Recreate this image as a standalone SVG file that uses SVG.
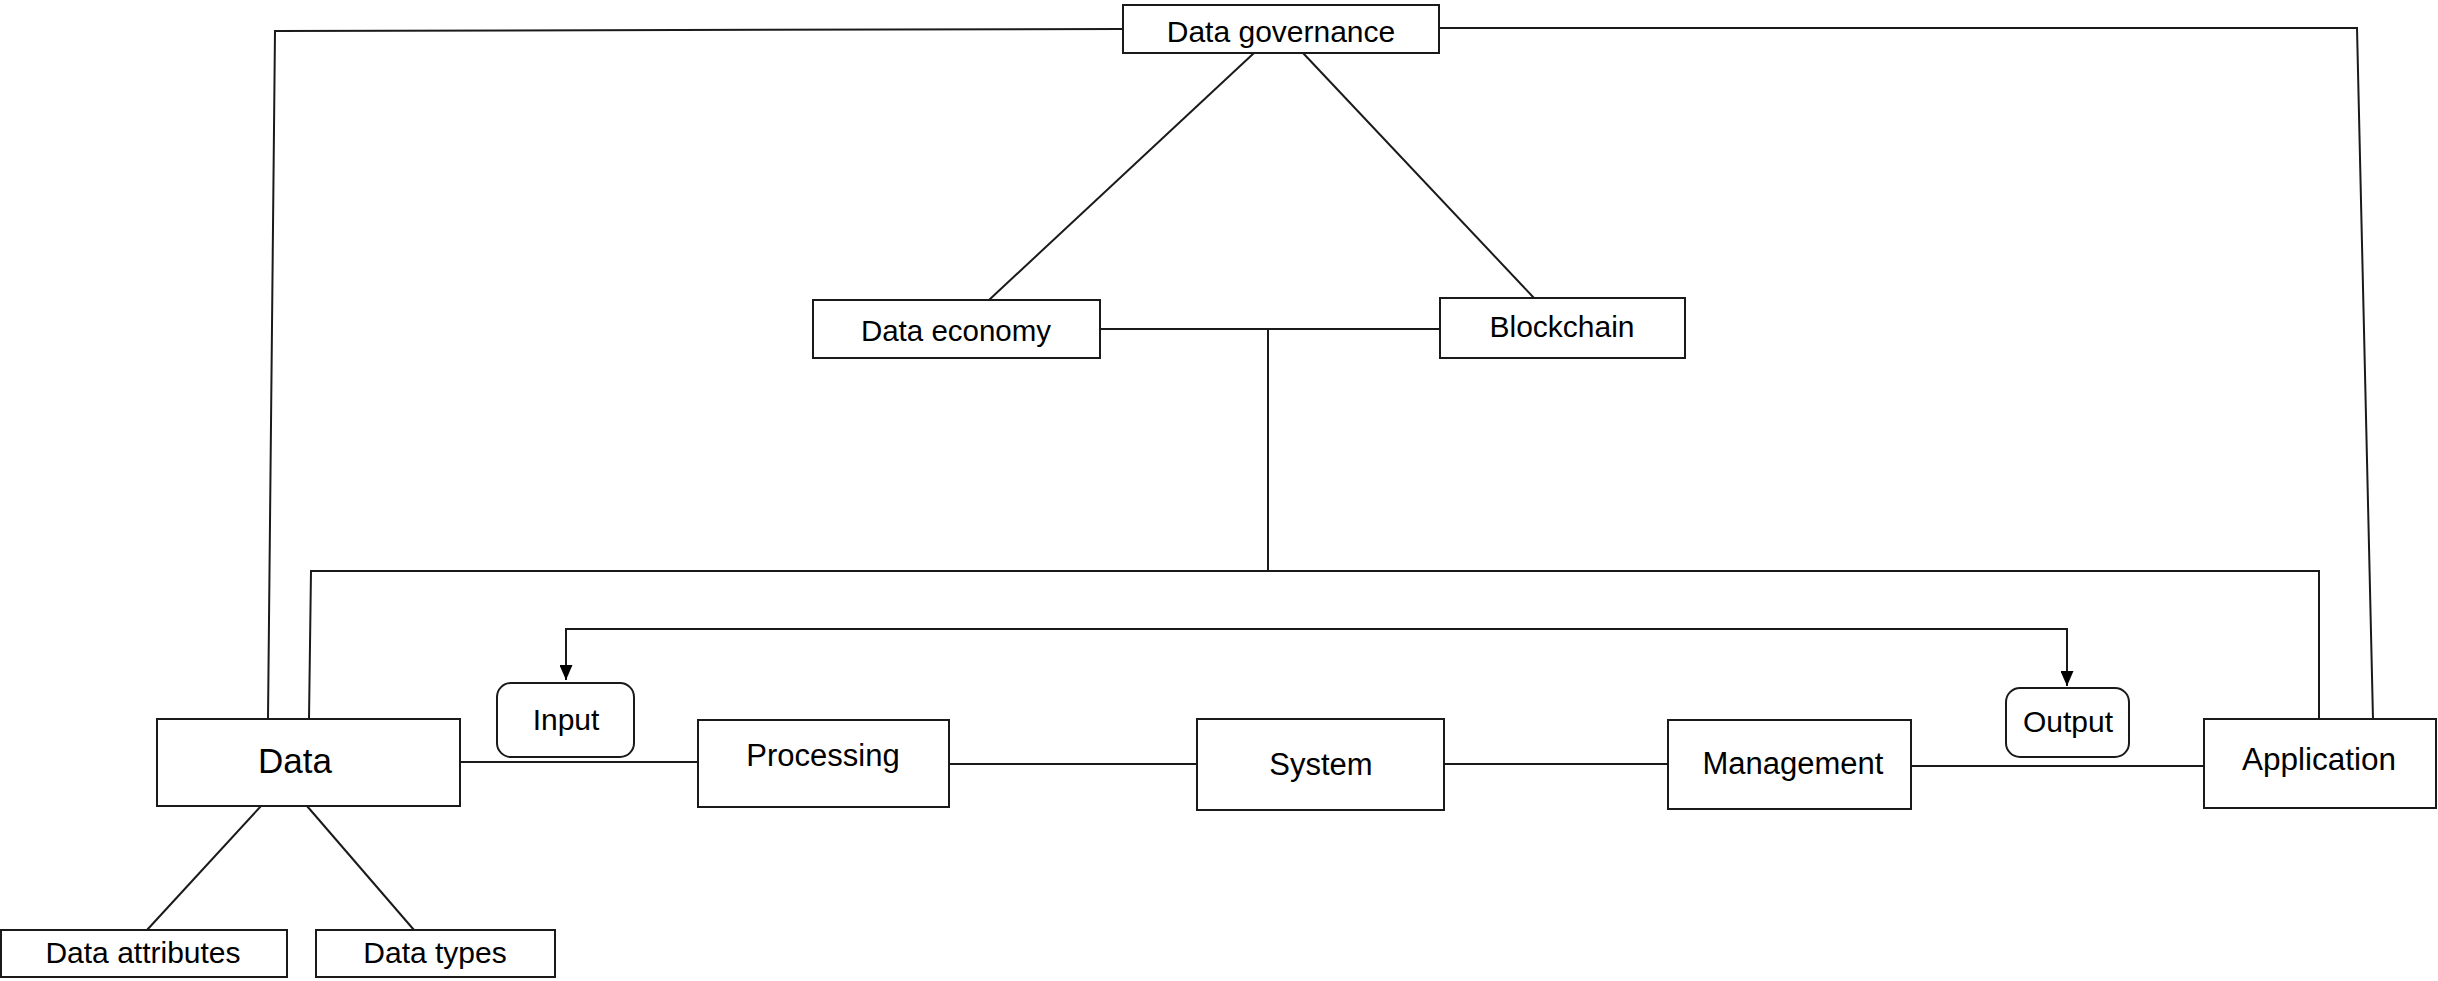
<svg xmlns="http://www.w3.org/2000/svg" width="2438" height="981" viewBox="0 0 2438 981">
  <style>
    .box { fill: #ffffff; stroke: #1a1a1a; stroke-width: 2; }
    .line { fill: none; stroke: #1a1a1a; stroke-width: 2; }
    .label { font-family: "Liberation Sans", Arial, sans-serif; fill: #000000; text-anchor: middle; }
  </style>
  <defs>
    <marker id="arrow" viewBox="0 0 15 13" refX="15" refY="6.5" markerWidth="15" markerHeight="13" markerUnits="userSpaceOnUse" orient="auto-start-reverse">
      <path d="M0,0 L15,6.5 L0,13 Z" fill="#000000"/>
    </marker>
  </defs>
  <rect width="2438" height="981" fill="#ffffff"/>

  <!-- connectors -->
  <g id="connectors">
    <path class="line" d="M1123,29 L275,31 L268,719"/>
    <path class="line" d="M1439,28 L2357,28 L2373,719"/>
    <path class="line" d="M1254,53 L989,300"/>
    <path class="line" d="M1303,53 L1534,298"/>
    <path class="line" d="M1100,329 L1440,329"/>
    <path class="line" d="M1268,329 L1268,571"/>
    <path class="line" d="M309,719 L311,571 L2319,571 L2319,719"/>
    <path class="line" d="M261,806 L147,930"/>
    <path class="line" d="M307,806 L414,930"/>
    <path class="line" d="M460,762 L698,762"/>
    <path class="line" d="M949,764 L1197,764"/>
    <path class="line" d="M1444,764 L1668,764"/>
    <path class="line" d="M1911,766 L2204,766"/>
    <path class="line" d="M566,680 L566,629 L2067,629 L2067,686" marker-start="url(#arrow)" marker-end="url(#arrow)"/>
  </g>

  <!-- nodes -->
  <g id="data-governance">
    <rect class="box" x="1123" y="5" width="316" height="48"/>
    <text class="label" x="1281" y="42" font-size="30">Data governance</text>
  </g>
  <g id="data-economy">
    <rect class="box" x="813" y="300" width="287" height="58"/>
    <text class="label" x="956" y="341" font-size="29.5">Data economy</text>
  </g>
  <g id="blockchain">
    <rect class="box" x="1440" y="298" width="245" height="60"/>
    <text class="label" x="1562" y="337" font-size="30">Blockchain</text>
  </g>
  <g id="data">
    <rect class="box" x="157" y="719" width="303" height="87"/>
    <text class="label" x="295" y="773" font-size="35">Data</text>
  </g>
  <g id="input">
    <rect class="box" x="497" y="683" width="137" height="74" rx="14" ry="14"/>
    <text class="label" x="566" y="730" font-size="30">Input</text>
  </g>
  <g id="processing">
    <rect class="box" x="698" y="720" width="251" height="87"/>
    <text class="label" x="823" y="766" font-size="31">Processing</text>
  </g>
  <g id="system">
    <rect class="box" x="1197" y="719" width="247" height="91"/>
    <text class="label" x="1321" y="775" font-size="31">System</text>
  </g>
  <g id="management">
    <rect class="box" x="1668" y="720" width="243" height="89"/>
    <text class="label" x="1793" y="774" font-size="31">Management</text>
  </g>
  <g id="output">
    <rect class="box" x="2006" y="688" width="123" height="69" rx="14" ry="14"/>
    <text class="label" x="2068" y="732" font-size="30">Output</text>
  </g>
  <g id="application">
    <rect class="box" x="2204" y="719" width="232" height="89"/>
    <text class="label" x="2319" y="770" font-size="31.5">Application</text>
  </g>
  <g id="data-attributes">
    <rect class="box" x="1" y="930" width="286" height="47"/>
    <text class="label" x="143" y="963" font-size="30">Data attributes</text>
  </g>
  <g id="data-types">
    <rect class="box" x="316" y="930" width="239" height="47"/>
    <text class="label" x="435" y="963" font-size="30">Data types</text>
  </g>
</svg>
